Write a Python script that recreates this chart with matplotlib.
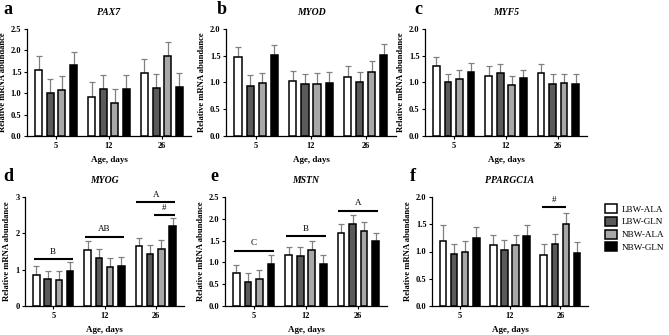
import matplotlib
matplotlib.use("Agg")
import matplotlib.pyplot as plt
from matplotlib.patches import Patch
import numpy as np

plt.rcParams['font.family'] = ['Liberation Serif', 'DejaVu Serif']
plt.rcParams['font.weight'] = 'bold'

ages = ['5', '12', '26']
groups = ['LBW-ALA', 'LBW-GLN', 'NBW-ALA', 'NBW-GLN']
colors = ['white', '#5a5a5a', '#a8a8a8', 'black']

# means per group, each list ordered by age (5, 12, 26)
pax7 = [[1.55, 0.91, 1.47], [1.01, 1.09, 1.11], [1.07, 0.76, 1.87], [1.65, 1.10, 1.15]]
pax7_err = [[0.33, 0.34, 0.32], [0.33, 0.33, 0.33], [0.33, 0.34, 0.32], [0.32, 0.33, 0.32]]
myod = [[1.47, 1.02, 1.10], [0.94, 0.97, 1.00], [0.99, 0.98, 1.20], [1.51, 0.99, 1.52]]
myod_err = [[0.20, 0.19, 0.20], [0.20, 0.19, 0.20], [0.19, 0.20, 0.20], [0.20, 0.20, 0.20]]
myf5 = [[1.31, 1.13, 1.18], [1.01, 1.18, 0.98], [1.07, 0.96, 0.99], [1.19, 1.08, 0.98]]
myf5_err = [[0.16, 0.18, 0.17], [0.15, 0.16, 0.17], [0.17, 0.17, 0.16], [0.17, 0.16, 0.17]]
myog = [[0.85, 1.53, 1.64], [0.73, 1.33, 1.43], [0.72, 1.07, 1.58], [0.97, 1.11, 2.19]]
myog_err = [[0.25, 0.25, 0.23], [0.24, 0.24, 0.24], [0.25, 0.24, 0.24], [0.23, 0.24, 0.24]]
mstn = [[0.75, 1.16, 1.67], [0.55, 1.15, 1.87], [0.63, 1.28, 1.73], [0.96, 0.96, 1.49]]
mstn_err = [[0.19, 0.20, 0.20], [0.20, 0.20, 0.21], [0.20, 0.20, 0.20], [0.21, 0.20, 0.19]]
pgc1a = [[1.20, 1.12, 0.93], [0.95, 1.02, 1.14], [0.99, 1.12, 1.51], [1.25, 1.29, 0.98]]
pgc1a_err = [[0.29, 0.19, 0.20], [0.19, 0.20, 0.19], [0.20, 0.19, 0.19], [0.20, 0.19, 0.20]]

panels = [
    ('a', 'PAX7', pax7, pax7_err, 2.5, 0.5),
    ('b', 'MYOD', myod, myod_err, 2.0, 0.5),
    ('c', 'MYF5', myf5, myf5_err, 2.0, 0.5),
    ('d', 'MYOG', myog, myog_err, 3.0, 1.0),
    ('e', 'MSTN', mstn, mstn_err, 2.5, 0.5),
    ('f', 'PPARGC1A', pgc1a, pgc1a_err, 2.0, 0.5),
]

# significance bars: panel -> list of (age index, x0 offset, x1 offset, y, text)
sig = {
    'd': [(0, -0.38, 0.38, 1.29, 'B'), (1, -0.38, 0.38, 1.91, 'AB'),
          (2, -0.38, 0.38, 2.85, 'A'), (2, -0.04, 0.38, 2.51, '#')],
    'e': [(0, -0.38, 0.38, 1.27, 'C'), (1, -0.38, 0.38, 1.61, 'B'),
          (2, -0.38, 0.38, 2.19, 'A')],
    'f': [(2, -0.36, 0.11, 1.81, '#')],
}

W, H = 669, 335
fig = plt.figure(figsize=(W / 100, H / 100), dpi=100)

# axes boxes in pixels: left, right, top, bottom
boxes = [(27, 191, 29, 136), (226, 396, 29, 136), (425, 587, 29, 136),
         (25, 184, 197, 306), (225, 387, 197, 306), (432, 588, 197, 306)]
# panel letter positions in pixels: left, baseline
letter_pos = [(3, 14), (217, 14), (414, 14), (3, 181), (210, 181), (410, 181)]

x = np.arange(len(ages))
offs = [-0.33, -0.11, 0.11, 0.33]
bw = 0.13

for (letter, gene, vals, errs, ymax, step), (l, r, t, b), (lx, ly) in zip(panels, boxes, letter_pos):
    ax = fig.add_axes([l / W, 1 - b / H, (r - l) / W, (b - t) / H])
    for i in range(4):
        ax.bar(x + offs[i], vals[i], bw, color=colors[i], edgecolor='black',
               linewidth=1.1, zorder=3)
        ax.errorbar(x + offs[i], vals[i], yerr=[np.zeros(3), errs[i]], fmt='none',
                    ecolor='#808080', elinewidth=0.9, capsize=2, capthick=0.9, zorder=2)
    ax.set_xlim(-0.55, 2.55)
    ax.set_ylim(0, ymax)
    ticks = np.arange(0, ymax + 0.001, step)
    ax.set_yticks(ticks)
    if step < 1:
        ax.set_yticklabels(['%.1f' % v for v in ticks], fontweight='bold')
    else:
        ax.set_yticklabels(['%d' % v for v in ticks], fontweight='bold')
    ax.set_xticks(x)
    ax.set_xticklabels(ages, fontweight='bold')
    for s in ['top', 'right']:
        ax.spines[s].set_visible(False)
    for s in ['left', 'bottom']:
        ax.spines[s].set_linewidth(0.9)
    ax.tick_params(labelsize=6, length=2.5, width=0.8, pad=1.5)
    ax.set_ylabel('Relative mRNA abundance', fontsize=6.2, fontweight='bold', labelpad=3)
    ax.set_xlabel('Age, days', fontsize=6.5, fontweight='bold', labelpad=5)
    ax.set_title(gene, fontsize=7, style='italic', fontweight='bold', pad=10)
    fig.text(lx / W, 1 - ly / H, letter, fontsize=13, fontweight='bold',
             ha='left', va='baseline')
    for gi, x0, x1, yy, txt in sig.get(letter, []):
        ax.plot([gi + x0, gi + x1], [yy, yy], color='black', lw=1.5,
                solid_capstyle='butt', clip_on=False)
        ax.text(gi + (x0 + x1) / 2, yy + ymax * 0.03, txt, ha='center', va='bottom',
                fontsize=6.5, fontweight='normal', clip_on=False)

handles = [Patch(facecolor=c, edgecolor='black', linewidth=1.1) for c in colors]
fig.legend(handles, groups, loc='upper left', bbox_to_anchor=(597 / W, 1 - 196 / H),
           frameon=False, prop={'size': 6.6, 'weight': 'normal'},
           handlelength=1.3, handleheight=1.1, handletextpad=0.45, labelspacing=0.35)

fig.savefig('out.png', dpi=100)
